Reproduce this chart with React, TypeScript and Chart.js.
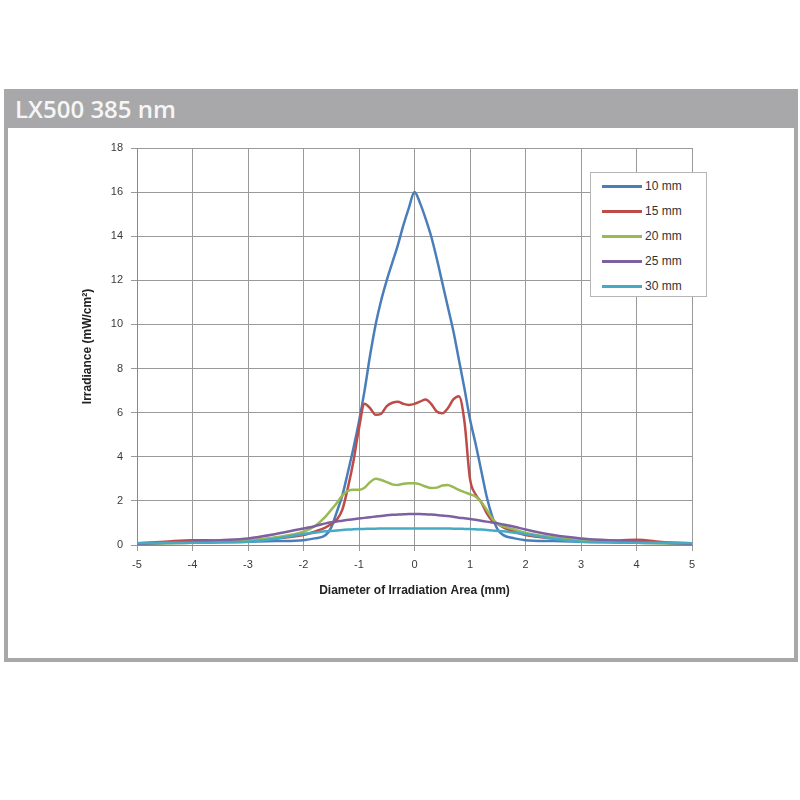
import React, { useEffect, useRef } from "react";
import { Chart, registerables } from "chart.js";

Chart.register(...registerables);

const TITLE = "LX500 385 nm";
const X_TITLE = "Diameter of Irradiation Area (mm)";
const Y_TITLE = "Irradiance (mW/cm²)";

const seriesNames = ["10 mm", "15 mm", "20 mm", "25 mm", "30 mm"];
const seriesColors = ["#4a7ebb", "#be4b48", "#98b954", "#7d60a0", "#46aac5"];

const positions = [
  -5, -4.5, -4, -3.5, -3, -2.5, -2, -1.8,
  -1.6, -1.5, -1.4, -1.3, -1.2, -1.1, -1.0, -0.9, -0.8, -0.7, -0.6, -0.5, -0.4, -0.3, -0.2, -0.1,
  0, 0.1, 0.2, 0.3, 0.4, 0.5, 0.6, 0.7, 0.8, 0.9, 1.0, 1.1, 1.2, 1.3, 1.4, 1.5, 1.6,
  1.8, 2, 2.5, 3, 3.5, 4, 4.5, 5,
];

const mm10 = [
  0.05, 0.08, 0.1, 0.12, 0.15, 0.18, 0.22, 0.3,
  0.45, 0.8, 1.5, 2.25, 3.3, 4.4, 5.6, 7.0, 8.6, 10.0, 11.1, 12.0, 12.8, 13.6, 14.5, 15.3,
  16.0, 15.5, 14.8, 14.0, 13.0, 11.9, 10.8, 9.7, 8.4, 7.1, 5.7, 4.6, 3.4, 2.2, 1.3, 0.7, 0.45,
  0.3, 0.22, 0.18, 0.15, 0.12, 0.1, 0.08, 0.05,
];

const mm15 = [
  0.08, 0.15, 0.22, 0.2, 0.22, 0.3, 0.45, 0.6,
  0.8, 0.95, 1.15, 1.6, 2.6, 3.8, 5.3, 6.4, 6.2, 5.9, 5.95, 6.3, 6.45, 6.5, 6.4, 6.35,
  6.4, 6.5, 6.6, 6.4, 6.05, 5.97, 6.2, 6.6, 6.75, 5.6, 3.0, 2.3, 1.95, 1.45, 1.1, 0.95, 0.8,
  0.6, 0.45, 0.3, 0.22, 0.2, 0.24, 0.12, 0.08,
];

const mm20 = [
  0.05, 0.08, 0.1, 0.15, 0.2, 0.35, 0.6, 0.85,
  1.3, 1.6, 1.9, 2.25, 2.45, 2.5, 2.5, 2.6, 2.85, 3.0, 2.95, 2.85, 2.75, 2.72, 2.78, 2.8,
  2.8, 2.75, 2.65, 2.58, 2.6, 2.7, 2.72, 2.62, 2.5, 2.4, 2.3, 2.2, 1.95, 1.6, 1.2, 0.95, 0.85,
  0.7, 0.55, 0.35, 0.2, 0.15, 0.1, 0.08, 0.05,
];

const mm25 = [
  0.05, 0.1, 0.15, 0.22, 0.3, 0.5, 0.75, 0.85,
  0.98, 1.03, 1.07, 1.1, 1.14, 1.17, 1.2, 1.23, 1.26, 1.29, 1.32, 1.35, 1.37, 1.38, 1.39, 1.4,
  1.4, 1.4, 1.39, 1.38, 1.36, 1.34, 1.31, 1.28, 1.24, 1.21, 1.18, 1.14, 1.1, 1.06, 1.02, 0.98, 0.93,
  0.83, 0.7, 0.45, 0.3, 0.22, 0.15, 0.1, 0.05,
];

const mm30 = [
  0.08, 0.1, 0.1, 0.12, 0.15, 0.28, 0.5, 0.56,
  0.62, 0.64, 0.66, 0.68, 0.7, 0.71, 0.72, 0.73, 0.74, 0.74, 0.75, 0.75, 0.75, 0.75, 0.75, 0.75,
  0.75, 0.75, 0.75, 0.75, 0.75, 0.75, 0.75, 0.74, 0.74, 0.73, 0.72, 0.71, 0.7, 0.68, 0.66, 0.64, 0.62,
  0.56, 0.5, 0.28, 0.15, 0.12, 0.1, 0.1, 0.08,
];

const seriesValues = [mm10, mm15, mm20, mm25, mm30];

const X_MIN = -5;
const X_MAX = 5;
const Y_MIN = 0;
const Y_MAX = 18;
const Y_STEP = 2;

const FONT = "'Liberation Sans', Arial, sans-serif";

export default function App() {
  const canvasRef = useRef<HTMLCanvasElement | null>(null);

  useEffect(() => {
    const canvas = canvasRef.current;
    if (!canvas) return;
    const datasets = seriesNames.map((name, i) => ({
      label: name,
      data: positions.map((x, j) => ({ x, y: seriesValues[i][j] })),
      borderColor: seriesColors[i],
      backgroundColor: seriesColors[i],
      borderWidth: 2.5,
      pointRadius: 0,
      fill: false,
      cubicInterpolationMode: "monotone" as const,
      order: seriesNames.length - i,
    }));
    const chart = new Chart(canvas, {
      type: "line",
      data: { datasets },
      options: {
        animation: false,
        responsive: false,
        devicePixelRatio: 1,
        layout: { padding: { left: 70.8, top: 17, right: 98, bottom: 54.8 } },
        plugins: {
          legend: { display: false },
          tooltip: { enabled: false },
        },
        scales: {
          x: {
            type: "linear",
            min: X_MIN,
            max: X_MAX,
            ticks: {
              stepSize: 1,
              padding: 7,
              color: "#3a3a3a",
              font: { family: FONT, size: 11 },
            },
            grid: { color: "#9a9a9a", lineWidth: 1, tickLength: 6 },
            border: { color: "#8a8a8a", width: 1 },
            title: {
              display: true,
              text: X_TITLE,
              color: "#222",
              padding: 0,
              font: { family: FONT, size: 12, weight: "bold" },
            },
            afterFit: (scale: any) => {
              scale.height = 53.2;
            },
          },
          y: {
            min: Y_MIN,
            max: Y_MAX,
            ticks: {
              stepSize: Y_STEP,
              padding: 8,
              color: "#3a3a3a",
              font: { family: FONT, size: 11 },
            },
            grid: { color: "#9a9a9a", lineWidth: 1, tickLength: 6 },
            border: { color: "#8a8a8a", width: 1 },
            title: {
              display: true,
              text: Y_TITLE,
              color: "#222",
              padding: 0,
              font: { family: FONT, size: 12, weight: "bold" },
            },
            afterFit: (scale: any) => {
              scale.width = 56.2;
            },
          },
        },
      },
    });
    return () => chart.destroy();
  }, []);

  return (
    <div>
      <div
        style={{
          position: "absolute",
          left: 4,
          top: 89,
          width: 794,
          height: 573,
          boxSizing: "border-box",
          border: "4px solid #a8a8aa",
          borderTop: "none",
          background: "#fff",
        }}
      />
      <div
        style={{
          position: "absolute",
          left: 4,
          top: 89,
          width: 794,
          height: 39,
          background: "#a8a8aa",
          color: "#f6f6f6",
          fontFamily: "'Open Sans', sans-serif",
          fontWeight: 600,
          fontSize: 24,
          lineHeight: "39px",
          paddingLeft: 11,
          boxSizing: "border-box",
          whiteSpace: "nowrap",
        }}
      >
        {TITLE}
      </div>
      <canvas
        ref={canvasRef}
        width={780}
        height={522}
        style={{ position: "absolute", left: 10, top: 131, width: 780, height: 522 }}
      />
      <div
        style={{
          position: "absolute",
          left: 590,
          top: 172,
          width: 117,
          height: 125,
          boxSizing: "border-box",
          border: "1px solid #b5b5b5",
          background: "#fff",
          fontFamily: FONT,
          fontSize: 12,
          color: "#333",
        }}
      >
        {seriesNames.map((name, i) => (
          <div
            key={name}
            style={{
              position: "absolute",
              left: 11,
              top: 6 + i * 25,
              height: 14,
              display: "flex",
              alignItems: "center",
              whiteSpace: "nowrap",
            }}
          >
            <span
              style={{
                display: "inline-block",
                width: 40,
                height: 3,
                background: seriesColors[i],
                marginRight: 3,
              }}
            />
            <span>{name}</span>
          </div>
        ))}
      </div>
    </div>
  );
}
